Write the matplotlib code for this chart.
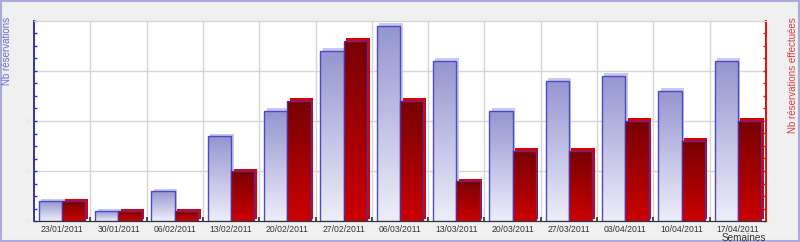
import numpy as np
import matplotlib
matplotlib.use("Agg")
import matplotlib.pyplot as plt
from matplotlib.patches import Rectangle
from matplotlib.colors import LinearSegmentedColormap
from matplotlib.transforms import ScaledTranslation
from matplotlib.ticker import MultipleLocator, FixedLocator

weeks = ["23/01/2011", "30/01/2011", "06/02/2011", "13/02/2011", "20/02/2011",
         "27/02/2011", "06/03/2011", "13/03/2011", "20/03/2011", "27/03/2011",
         "03/04/2011", "10/04/2011", "17/04/2011"]
reservations = [4, 2, 6, 17, 22, 34, 39, 32, 22, 28, 29, 26, 32]
effectuees = [2, 1, 1, 5, 12, 18, 12, 4, 7, 7, 10, 8, 10]

plt.rcParams['font.family'] = ['Liberation Sans', 'DejaVu Sans']

fig = plt.figure(figsize=(8, 2.42), dpi=100)
fig.patch.set_facecolor('#f0f0f0')
fig.patches.append(Rectangle((0.001, 0.003), 0.998, 0.994, transform=fig.transFigure,
                             facecolor='none', edgecolor='#aaaadd', lw=1.5))

ax = fig.add_axes([34/800, 21/242, 732/800, 200/242])
ax.set_facecolor('white')
ax2 = ax.twinx()
ax2.patch.set_visible(False)

n = len(weeks)
x = np.arange(n)
bw = 0.414
off = ScaledTranslation(0.025, 0.025, fig.dpi_scale_trans)

blue_cmap = LinearSegmentedColormap.from_list('b', ['#eeeefa', '#9595d0'])
red_cmap = LinearSegmentedColormap.from_list('r', ['#cc0000', '#760000'])
grad = np.linspace(0, 1, 256).reshape(-1, 1)


def draw_bar(a, xc, h, cmap, shadow, edge):
    x0 = xc - bw / 2
    sh = Rectangle((x0, 0), bw, h, facecolor=shadow, edgecolor='none',
                   transform=a.transData + off, zorder=2)
    a.add_patch(sh)
    sh.set_clip_path(a.patch)
    rect = Rectangle((x0, 0), bw, h, facecolor='none', edgecolor='none', zorder=3)
    a.add_patch(rect)
    im = a.imshow(grad, cmap=cmap, extent=[x0, x0 + bw, 0, h], origin='lower',
                  aspect='auto', zorder=3, interpolation='bilinear')
    im.set_clip_path(rect)
    a.add_patch(Rectangle((x0, 0), bw, h, facecolor='none', edgecolor=edge,
                          lw=1.0, zorder=4))


for i in range(n):
    draw_bar(ax, x[i] - bw / 2, reservations[i], blue_cmap, '#c8c8f0', '#4a4ac4')
    draw_bar(ax2, x[i] + bw / 2, effectuees[i], red_cmap, '#e00000', '#5a2a9a')

ax.set_xlim(-0.5, n - 0.5)
ax.set_ylim(0, 40)
ax2.set_ylim(0, 20)

# grid
for b in np.arange(0.5, n - 0.5, 1):
    ax.axvline(b, color='#d6d6d6', lw=1, zorder=0)
for yv in [10, 20, 30]:
    ax.axhline(yv, color='#d6d6d6', lw=1, zorder=0)

# x ticks
ax.set_xticks(x)
ax.set_xticklabels(weeks, fontsize=6.2, color='#333333')
ax.tick_params(axis='x', which='major', length=0, pad=3)
ax.xaxis.set_minor_locator(FixedLocator(np.arange(0.5, n - 0.5, 1)))
ax.tick_params(axis='x', which='minor', direction='in', length=3, width=1.2, color='#333333')

# y ticks
ax.yaxis.set_major_locator(MultipleLocator(10))
ax.yaxis.set_minor_locator(MultipleLocator(2.5))
ax.tick_params(axis='y', which='both', direction='in', length=2.5, width=1, color='#3333aa',
               labelsize=4, labelcolor='#e4e4ec', pad=2)
ax.set_yticklabels(['', '10', '20', '30', ''])
ax2.yaxis.set_major_locator(MultipleLocator(5))
ax2.yaxis.set_minor_locator(MultipleLocator(1.25))
ax2.tick_params(axis='y', which='both', direction='in', length=2.5, width=1, color='#dd1111',
                labelright=False)

for a in (ax, ax2):
    a.spines['top'].set_color('#d6d6d6')
    a.spines['left'].set_color('#3333aa')
    a.spines['right'].set_color('#dd1111')
    a.spines['bottom'].set_color('#333333')
    a.spines['left'].set_linewidth(1.2)
    a.spines['right'].set_linewidth(1.2)

fig.text(7.5/800, 1 - 17/242, 'Nb réservations', rotation=90, ha='center', va='top',
         fontsize=7, color='#6a6ad2')
fig.text(793.5/800, 1 - 17/242, 'Nb réservations effectuées', rotation=90, ha='center', va='top',
         fontsize=7, color='#e03a3a')
fig.text(766/800, 1 - 238/242, 'Semaines', ha='right', va='center', fontsize=7.2, color='#333333')

fig.savefig('out.png', dpi=100, facecolor=fig.get_facecolor())
